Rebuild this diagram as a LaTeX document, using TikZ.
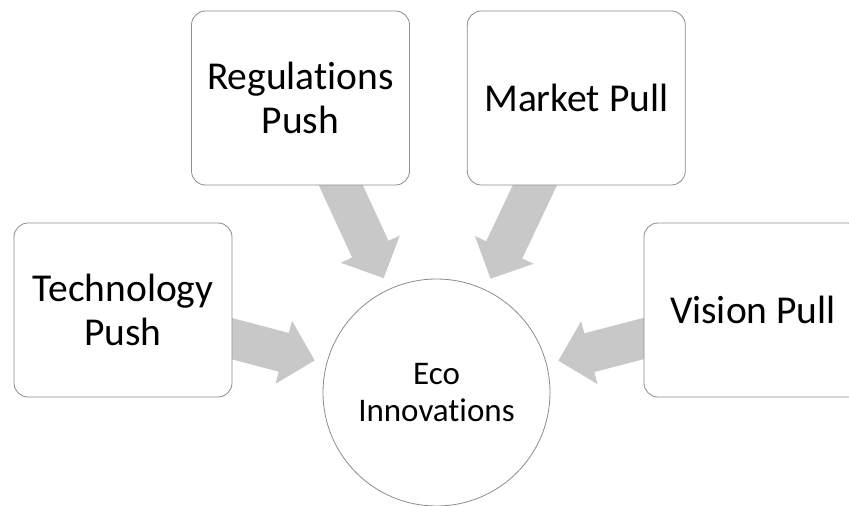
\documentclass[tikz,border=0pt]{standalone}
\usepackage{fontspec}
\setmainfont{Carlito}[Ligatures=CommonOff]
\usetikzlibrary{backgrounds}
\usetikzlibrary{arrows.meta}
\usetikzlibrary{positioning}
\pgfdeclarelayer{arrows}
\pgfsetlayers{background,arrows,main}
\definecolor{arrowgray}{RGB}{200,200,200}
\definecolor{edgegray}{RGB}{140,140,140}

\begin{document}
\begin{tikzpicture}[
    x=1pt, y=-1pt,
    show background rectangle,
    tight background=0,
    background rectangle/.style={fill=white},
    box/.style={draw=edgegray, line width=0.8pt, fill=white, rounded corners=14pt,
        minimum width=218pt, minimum height=174pt, align=center,
        font=\fontsize{39.5}{44}\selectfont},
    hub/.style={circle, draw=edgegray, line width=0.8pt, fill=white,
        minimum size=227pt, inner sep=0pt, align=center,
        font=\fontsize{33}{37}\selectfont},
    flow/.style={draw=arrowgray, line width=40pt, shorten >=12pt,
        -{Triangle[width=63pt, length=32pt]}},
 ]
    \useasboundingbox (0,0) rectangle (849,506);
    \node[hub] (Eco) at (436.5,392.5) {Eco\\Innovations};
    \node[box] (Tech) at (123,310) {Technology\\Push};
    \node[box] (Reg) at (300.5,98) {Regulations\\Push};
    \node[box, right=57pt of Reg] (Mkt) {Market Pull};
    \node[box] (Vis) at (753,310) {Vision Pull};

    % block arrows sit behind the boxes
    \begin{pgfonlayer}{arrows}
        \draw[flow] (Tech.center) -- (Eco);
        \draw[flow] (Reg.center) -- (Eco);
        \draw[flow] (Mkt.center) -- (Eco);
        \draw[flow] (Vis.center) -- (Eco);
    \end{pgfonlayer}
\end{tikzpicture}
\end{document}
